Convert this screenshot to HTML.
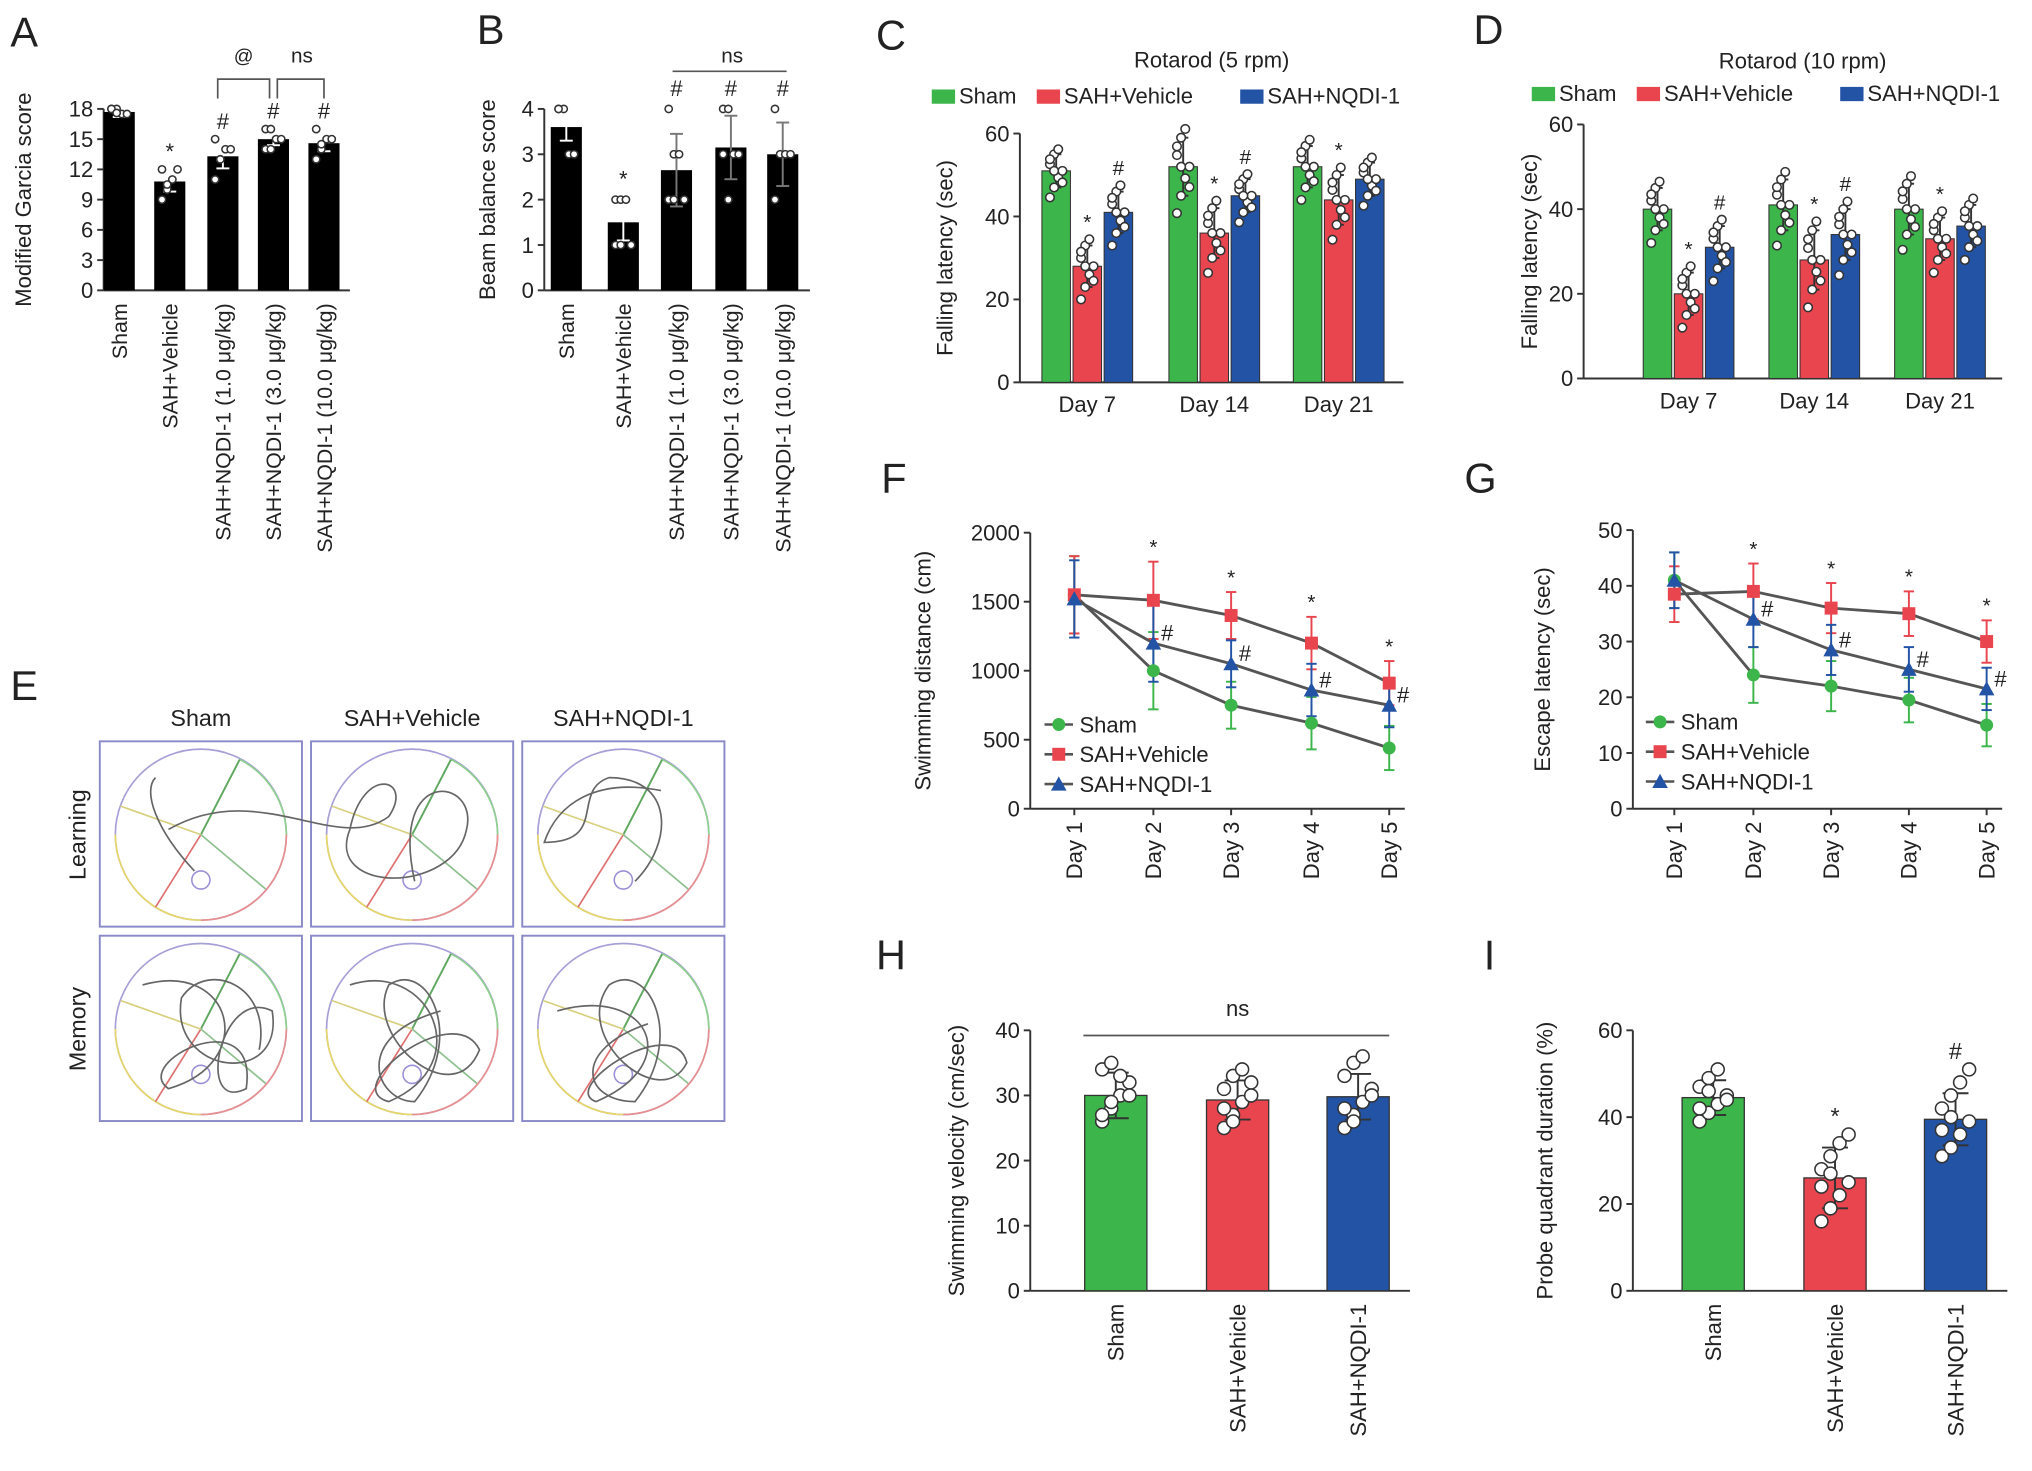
<!DOCTYPE html>
<html><head><meta charset="utf-8"><style>
html,body{margin:0;padding:0;background:#fff}
svg{display:block}
text{font-family:"Liberation Sans",sans-serif;fill:#222}
</style></head><body>
<svg id="fig" width="2032" height="1471" viewBox="0 0 1568 1135" xmlns="http://www.w3.org/2000/svg"></svg>
<script>
// ---------- DATA ----------
const garciaGroups = ["Sham","SAH+Vehicle","SAH+NQDI-1 (1.0 μg/kg)","SAH+NQDI-1 (3.0 μg/kg)","SAH+NQDI-1 (10.0 μg/kg)"];
const garciaMeans = [17.7, 10.8, 13.3, 15.0, 14.6];
const garciaSD = [0.5, 1.0, 1.2, 0.6, 0.8];
const garciaMarks = ["", "*", "#", "#", "#"];
const garciaPoints = [[18,18,17.5,17.5,18,17.6],[9,10,11,12,12,10.5],[11,13,14,14,15,13],[14,14,15,15,16,16],[13,14,15,15,16,14.5]];
const garciaTicks = [0,3,6,9,12,15,18];

const beamMeans = [3.6, 1.5, 2.65, 3.15, 3.0];
const beamSD = [0.3, 0.4, 0.8, 0.7, 0.7];
const beamMarks = ["", "*", "#", "#", "#"];
const beamPoints = [[4,4,3,3,4],[2,2,2,1,1,1],[4,3,3,2,2,2],[4,4,3,3,3,2],[4,3,3,3,2]];
const beamTicks = [0,1,2,3,4];

const rotaDays = ["Day 7","Day 14","Day 21"];
const rota5Sham = [51, 52, 52];
const rota5Veh = [28, 36, 44];
const rota5NQ = [41, 45, 49];
const rota5SD = [[4,5,5],[7,6,4],[5,6,4]];
const rota5Marks = [["","*","#"],["","*","#"],["","*",""]];
const rota10Sham = [40, 41, 40];
const rota10Veh = [20, 28, 33];
const rota10NQ = [31, 34, 36];
const rota10SD = [[5,5,5],[6,7,6],[6,5,5]];
const rota10Marks = [["","*","#"],["","*","#"],["","*",""]];
const rotaTicks = [0,20,40,60];

const mwmDays = ["Day 1","Day 2","Day 3","Day 4","Day 5"];
const distSham = [1550, 1000, 750, 620, 440];
const distVeh = [1550, 1510, 1400, 1200, 910];
const distNQ = [1520, 1200, 1050, 860, 750];
const distErr = [280, 280, 170, 190, 160];
const distTicks = [0,500,1000,1500,2000];
const escSham = [41, 24, 22, 19.5, 15];
const escVeh = [38.5, 39, 36, 35, 30];
const escNQ = [41, 34, 28.5, 25, 21.5];
const escErr = [5, 5, 4.5, 4, 3.8];
const escTicks = [0,10,20,30,40,50];

const groups3 = ["Sham","SAH+Vehicle","SAH+NQDI-1"];
const velMeans = [30, 29.3, 29.8];
const velSD = [3.5, 3, 3.5];
const velPoints = [[26,28,30,32,34,35,33,30,27,29],[25,27,29,30,31,33,34,32,28,26],[25,27,29,31,33,35,36,30,28,26]];
const velTicks = [0,10,20,30,40];
const probeMeans = [44.5, 26, 39.5];
const probeSD = [4, 7, 6];
const probeMarks = ["", "*", "#"];
const probePoints = [[39,41,43,45,47,49,51,44,42,46],[16,19,22,25,28,31,34,36,24,27],[31,33,36,39,42,45,48,51,37,40]];
const probeTicks = [0,20,40,60];

// ---------- HELPERS ----------
const NS = "http://www.w3.org/2000/svg";
const svg = document.getElementById("fig");
const G = "#3cb54a", R = "#e8454f", B = "#2353a5";
function mk(tag, attrs, parent, name) {
  const e = document.createElementNS(NS, tag);
  for (const k in attrs) e.setAttribute(k, attrs[k]);
  
  
  (parent || svg).appendChild(e);
  return e;
}
function txt(x, y, s, size, name, extra) {
  const t = mk("text", Object.assign({x: x, y: y, "font-size": size}, extra || {}), svg, name);
  t.textContent = s;
  return t;
}
function yScale(y0, ytop, max) { return v => y0 - (v / max) * (y0 - ytop); }
function axes(ax, y0, xEnd, ytop, ticks, max, title, titleX, name) {
  const ys = yScale(y0, ytop, max);
  mk("line", {x1: ax, y1: y0, x2: xEnd, y2: y0, stroke: "#333", "stroke-width": 1.5}, svg, name + "-x-axis");
  mk("line", {x1: ax, y1: y0, x2: ax, y2: ytop, stroke: "#333", "stroke-width": 1.5}, svg, name + "-y-axis");
  ticks.forEach(v => {
    mk("line", {x1: ax - 5, y1: ys(v), x2: ax, y2: ys(v), stroke: "#333", "stroke-width": 1.5}, svg, name + "-y-tick");
    txt(ax - 8, ys(v) + 6, String(v), 17, name + "-y-tick-label", {"text-anchor": "end"});
  });
  const cy = (y0 + ytop) / 2;
  txt(titleX, cy, title, 17, name + "-y-axis-title", {"text-anchor": "middle", transform: `rotate(-90 ${titleX} ${cy})`});
  return ys;
}
function errBar(cx, top, bot, color, w, name) {
  mk("line", {x1: cx, y1: top, x2: cx, y2: bot, stroke: color, "stroke-width": 1.5}, svg, name);
  mk("line", {x1: cx - w, y1: top, x2: cx + w, y2: top, stroke: color, "stroke-width": 1.5}, svg, name + "-cap");
  mk("line", {x1: cx - w, y1: bot, x2: cx + w, y2: bot, stroke: color, "stroke-width": 1.5}, svg, name + "-cap");
}
function dots(cx, pts, ys, r, spread, name) {
  pts.forEach((v, i) => {
    const off = ((i % 4) - 1.5) * spread;
    mk("circle", {cx: cx + off, cy: ys(v), r: r, fill: "#fff", stroke: "#333", "stroke-width": 1.2}, svg, name);
  });
}
function panelLetter(x, y, s) { txt(x, y, s, 32, "panel-label-" + s.toLowerCase()); }

// ---------- PANEL A ----------
panelLetter(8, 36, "A");
(function () {
  const ys = axes(80, 224, 270, 84, garciaTicks, 18, "Modified Garcia score", 24, "garcia");
  const cx = [92, 131, 172, 211, 250];
  garciaMeans.forEach((v, i) => {
    mk("rect", {x: cx[i] - 12, y: ys(v), width: 24, height: 224 - ys(v), fill: "#000"}, svg, "garcia-bar");
    errBar(cx[i], ys(v + garciaSD[i]), ys(v - garciaSD[i]), "#fff", 5, "garcia-error-bar");
    dots(cx[i], garciaPoints[i], ys, 2.8, 4, "garcia-point");
    if (garciaMarks[i]) txt(cx[i], ys(Math.max(...garciaPoints[i])) - 8, garciaMarks[i], 17, "garcia-significance", {"text-anchor": "middle"});
    txt(0, 0, garciaGroups[i], 16.5, "garcia-x-label", {"text-anchor": "end", transform: `translate(${cx[i] + 6} 234) rotate(-90)`});
  });
  mk("polyline", {points: "168,76 168,61 208,61 208,76", fill: "none", stroke: "#555", "stroke-width": 1.3}, svg, "garcia-bracket-at");
  mk("polyline", {points: "214,76 214,61 250,61 250,76", fill: "none", stroke: "#555", "stroke-width": 1.3}, svg, "garcia-bracket-ns");
  txt(188, 48, "@", 15, "garcia-at-label", {"text-anchor": "middle"});
  txt(233, 48, "ns", 16, "garcia-ns-label", {"text-anchor": "middle"});
})();

// ---------- PANEL B ----------
panelLetter(368, 34, "B");
(function () {
  const ys = axes(420, 224, 625, 84, beamTicks, 4, "Beam balance score", 382, "beam");
  const cx = [437, 481, 522, 564, 604];
  beamMeans.forEach((v, i) => {
    mk("rect", {x: cx[i] - 12, y: ys(v), width: 24, height: 224 - ys(v), fill: "#000"}, svg, "beam-bar");
    errBar(cx[i], ys(v + beamSD[i]), ys(v - beamSD[i]), i === 0 || i === 1 ? "#fff" : "#777", 5, "beam-error-bar");
    dots(cx[i], beamPoints[i], ys, 2.8, 4, "beam-point");
    if (beamMarks[i]) txt(cx[i], ys(Math.max(...beamPoints[i])) - 10, beamMarks[i], 17, "beam-significance", {"text-anchor": "middle"});
    txt(0, 0, garciaGroups[i], 16.5, "beam-x-label", {"text-anchor": "end", transform: `translate(${cx[i] + 6} 234) rotate(-90)`});
  });
  mk("line", {x1: 519, y1: 55, x2: 607, y2: 55, stroke: "#555", "stroke-width": 1.3}, svg, "beam-ns-line");
  txt(565, 48, "ns", 16, "beam-ns-label", {"text-anchor": "middle"});
})();

// ---------- ROTAROD ----------
function rotarod(letter, lx, ly, title, tx, ty, ax, y0, ytop, xEnd, centers, sham, veh, nq, sd, marks, legY, legX, titleX) {
  panelLetter(lx, ly, letter);
  txt(tx, ty, title, 17, "rotarod-title-" + letter.toLowerCase(), {"text-anchor": "middle"});
  const names = ["Sham", "SAH+Vehicle", "SAH+NQDI-1"], cols = [G, R, B];
  names.forEach((n, k) => {
    mk("rect", {x: legX[k], y: legY - 11, width: 18, height: 11, fill: cols[k]}, svg, "legend-swatch");
    txt(legX[k] + 21, legY, n, 17, "legend-entry");
  });
  const ys = axes(ax, y0, xEnd, ytop, rotaTicks, 60, "Falling latency (sec)", titleX, "rotarod-" + letter.toLowerCase());
  const series = [sham, veh, nq];
  centers.forEach((c, d) => {
    series.forEach((s, k) => {
      const x = c + (k - 1) * 24, v = s[d];
      mk("rect", {x: x - 11, y: ys(v), width: 22, height: y0 - ys(v), fill: cols[k], stroke: "#333", "stroke-width": 0.8}, svg, "rotarod-bar");
      errBar(x, ys(v + sd[d][k]), ys(v - sd[d][k]), "#333", 4, "rotarod-error-bar");
      const pts = [v - sd[d][k] * 1.6, v - sd[d][k], v - sd[d][k] * 0.4, v, v + sd[d][k] * 0.4, v + sd[d][k], v + sd[d][k] * 1.3, v - sd[d][k] * 0.7, v + sd[d][k] * 0.7, v];
      dots(x, pts, ys, 3.3, 3.2, "rotarod-point");
      if (marks[d][k]) txt(x, ys(v + sd[d][k] * 1.3) - 8, marks[d][k], 16, "rotarod-significance", {"text-anchor": "middle"});
    });
    txt(c, y0 + 23, rotaDays[d], 17, "rotarod-x-label", {"text-anchor": "middle"});
  });
}
rotarod("C", 676, 38, "Rotarod (5 rpm)", 935, 52, 787, 295, 103, 1083, [839, 937, 1033], rota5Sham, rota5Veh, rota5NQ, rota5SD, rota5Marks, 80, [719, 800, 957], 735);
rotarod("D", 1137, 34, "Rotarod (10 rpm)", 1391, 53, 1222, 292, 96, 1545, [1303, 1400, 1497], rota10Sham, rota10Veh, rota10NQ, rota10SD, rota10Marks, 78, [1182, 1263, 1420], 1186);

// ---------- LINE CHARTS ----------
function lineChart(letter, lx, ly, ax, y0, ytop, xs, ticks, max, title, titleX, sham, veh, nq, err, legX, legY) {
  panelLetter(lx, ly, letter);
  const ys = axes(ax, y0, xs[4] + 12, ytop, ticks, max, title, titleX, "mwm-" + letter.toLowerCase());
  const sers = [[sham, G, "circle"], [veh, R, "square"], [nq, B, "triangle"]];
  sers.forEach(([s, col]) => s.forEach((v, i) => errBar(xs[i], ys(v + err[i]), ys(Math.max(0, v - err[i])), col, 4, "mwm-error-bar")));
  sers.forEach(([s, col, shape]) => {
    mk("polyline", {points: s.map((v, i) => xs[i] + "," + ys(v)).join(" "), fill: "none", stroke: "#555", "stroke-width": 2.2}, svg, "mwm-line");
    s.forEach((v, i) => marker(xs[i], ys(v), col, shape));
  });
  xs.forEach((x, i) => {
    mk("line", {x1: x, y1: y0, x2: x, y2: y0 + 5, stroke: "#333", "stroke-width": 1.5}, svg, "mwm-x-tick");
    txt(0, 0, mwmDays[i], 17, "mwm-x-label", {"text-anchor": "end", transform: `translate(${x + 6} ${y0 + 10}) rotate(-90)`});
    if (i > 0) {
      txt(x, ys(veh[i] + err[i]) - 6, "*", 16, "mwm-star", {"text-anchor": "middle"});
      txt(x + 6, ys(nq[i]) - 2, "#", 17, "mwm-hash");
    }
  });
  const labels = ["Sham", "SAH+Vehicle", "SAH+NQDI-1"];
  sers.forEach(([s, col, shape], k) => {
    const y = legY + k * 23;
    mk("line", {x1: legX, y1: y, x2: legX + 22, y2: y, stroke: "#555", "stroke-width": 2}, svg, "legend-line");
    marker(legX + 11, y, col, shape);
    txt(legX + 27, y + 6, labels[k], 17, "legend-entry");
  });
}
function marker(x, y, col, shape) {
  if (shape === "circle") mk("circle", {cx: x, cy: y, r: 5, fill: col}, svg, "mwm-marker");
  else if (shape === "square") mk("rect", {x: x - 5, y: y - 5, width: 10, height: 10, fill: col}, svg, "mwm-marker");
  else mk("polygon", {points: `${x},${y - 6} ${x - 6},${y + 5} ${x + 6},${y + 5}`, fill: col}, svg, "mwm-marker");
}
lineChart("F", 680, 380, 795, 624, 411, [829, 890, 950, 1012, 1072], distTicks, 2000, "Swimming distance (cm)", 718, distSham, distVeh, distNQ, distErr, 806, 559);
lineChart("G", 1130, 380, 1260, 624, 409, [1292, 1353, 1413, 1473, 1533], escTicks, 50, "Escape latency (sec)", 1196, escSham, escVeh, escNQ, escErr, 1270, 557);

// ---------- H & I ----------
function bar3(letter, lx, ly, ax, y0, ytop, centers, means, sd, pts, ticks, max, title, titleX, marks) {
  panelLetter(lx, ly, letter);
  const ys = axes(ax, y0, centers[2] + 40, ytop, ticks, max, title, titleX, "bar3-" + letter.toLowerCase());
  const cols = [G, R, B];
  means.forEach((v, i) => {
    mk("rect", {x: centers[i] - 24, y: ys(v), width: 48, height: y0 - ys(v), fill: cols[i], stroke: "#333", "stroke-width": 1}, svg, "bar3-bar");
    errBar(centers[i], ys(v + sd[i]), ys(v - sd[i]), "#333", 10, "bar3-error-bar");
    dots(centers[i], pts[i], ys, 5, 7, "bar3-point");
    if (marks && marks[i]) txt(centers[i], ys(Math.max(...pts[i])) - 8, marks[i], 18, "bar3-significance", {"text-anchor": "middle"});
    txt(0, 0, groups3[i], 17, "bar3-x-label", {"text-anchor": "end", transform: `translate(${centers[i] + 6} 1006) rotate(-90)`});
  });
}
bar3("H", 676, 748, 795, 996, 795, [861, 955, 1048], velMeans, velSD, velPoints, velTicks, 40, "Swimming velocity (cm/sec)", 744, null);
mk("line", {x1: 836, y1: 799, x2: 1072, y2: 799, stroke: "#555", "stroke-width": 1.3}, svg, "velocity-ns-line");
txt(955, 784, "ns", 17, "velocity-ns-label", {"text-anchor": "middle"});
bar3("I", 1145, 748, 1260, 996, 795, [1322, 1416, 1509], probeMeans, probeSD, probePoints, probeTicks, 60, "Probe quadrant duration (%)", 1198, probeMarks);

// ---------- PANEL E (maze traces) ----------
panelLetter(8, 540, "E");
const mazeCols = ["Sham", "SAH+Vehicle", "SAH+NQDI-1"];
const mazeX = [77, 240, 403];
const mazeRows = [[572, "Learning"], [722, "Memory"]];
const paths = [
  ["M150,672 C120,640 110,610 120,600", "M130,640 C200,600 260,660 300,630 C320,600 280,590 270,640 C250,690 350,690 360,640 C370,600 300,590 320,680", "M490,680 C520,650 520,600 470,600 C440,610 470,650 420,650 C430,620 460,600 510,610"],
  ["M110,760 C180,740 200,820 130,840 C100,820 200,770 190,840 C150,860 170,760 210,780 C220,840 130,830 140,770 C160,740 210,760 200,810", "M270,760 C330,740 370,820 300,850 C260,840 350,770 370,810 C350,860 280,800 300,760 C330,740 360,800 320,850 C290,850 270,800 340,780", "M430,780 C500,760 530,820 460,850 C430,840 520,780 530,820 C510,860 440,800 470,760 C500,740 530,800 490,850 C450,850 440,810 500,790"]
];
mazeRows.forEach(([y, lab], r) => {
  txt(0, 0, lab, 18, "maze-row-label", {"text-anchor": "middle", transform: `translate(66 ${y + 72}) rotate(-90)`});
  mazeX.forEach((x, c) => {
    if (r === 0) txt(x + 78, 560, mazeCols[c], 18, "maze-column-label", {"text-anchor": "middle"});
    mk("rect", {x: x, y: y, width: 156, height: 143, fill: "#fff", stroke: "#8a8ac8", "stroke-width": 1.5}, svg, "maze-frame");
    const cx = x + 78, cy = y + 72;
    mk("circle", {cx: cx, cy: cy, r: 66, fill: "none", stroke: "#a7a0d8", "stroke-width": 1.3}, svg, "maze-pool");
    mk("path", {d: `M${cx - 66},${cy} A66,66 0 0,0 ${cx},${cy + 66}`, fill: "none", stroke: "#e6d76a", "stroke-width": 1.3}, svg, "maze-arc");
    mk("path", {d: `M${cx},${cy + 66} A66,66 0 0,0 ${cx + 66},${cy}`, fill: "none", stroke: "#e89090", "stroke-width": 1.3}, svg, "maze-arc");
    mk("path", {d: `M${cx + 66},${cy} A66,66 0 0,0 ${cx + 30},${cy - 58}`, fill: "none", stroke: "#8fd08f", "stroke-width": 1.3}, svg, "maze-arc");
    mk("line", {x1: cx - 35, y1: cy + 56, x2: cx, y2: cy, stroke: "#e07070", "stroke-width": 1.3}, svg, "maze-quadrant-line");
    mk("line", {x1: cx, y1: cy, x2: cx + 30, y2: cy - 58, stroke: "#60a860", "stroke-width": 1.5}, svg, "maze-quadrant-line");
    mk("line", {x1: cx - 62, y1: cy - 22, x2: cx, y2: cy, stroke: "#d8d080", "stroke-width": 1.3}, svg, "maze-quadrant-line");
    mk("line", {x1: cx, y1: cy, x2: cx + 50, y2: cy + 42, stroke: "#8fc08f", "stroke-width": 1.3}, svg, "maze-quadrant-line");
    mk("circle", {cx: cx, cy: cy + 35, r: 7, fill: "none", stroke: "#9a90d8", "stroke-width": 1.2}, svg, "maze-platform");
    mk("path", {d: paths[r][c], fill: "none", stroke: "#666", "stroke-width": 1.3}, svg, "maze-swim-path");
  });
});
</script>
</body></html>
